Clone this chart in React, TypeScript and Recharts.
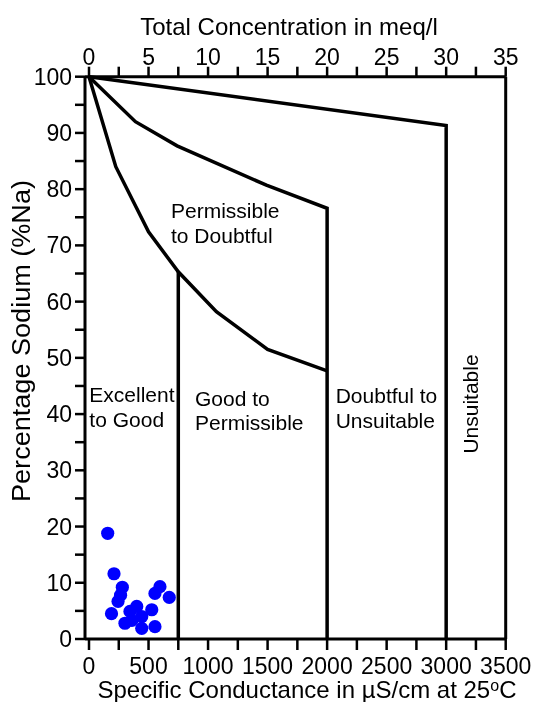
import React from 'react';
import { ComposedChart, XAxis, YAxis, Scatter, ReferenceLine } from 'recharts';

const FONT = '"Liberation Sans", Arial, Helvetica, sans-serif';

// Tick values
const conductanceTicks = [0, 250, 500, 750, 1000, 1250, 1500, 1750, 2000, 2250, 2500, 2750, 3000, 3250, 3500];
const concentrationTicks = [0, 2.5, 5, 7.5, 10, 12.5, 15, 17.5, 20, 22.5, 25, 27.5, 30, 32.5, 35];
const sodiumTicks = [0, 5, 10, 15, 20, 25, 30, 35, 40, 45, 50, 55, 60, 65, 70, 75, 80, 85, 90, 95, 100];

// Class boundaries (x: specific conductance µS/cm, y: %Na)
const unsuitableBoundary = [
  { x: 0, y: 100 },
  { x: 3000, y: 91.3 },
  { x: 3000, y: 0 },
];
const doubtfulBoundary = [
  { x: 0, y: 100 },
  { x: 390, y: 92 },
  { x: 740, y: 87.7 },
  { x: 1490, y: 80.7 },
  { x: 2000, y: 76.6 },
  { x: 2000, y: 0 },
];
const permissibleBoundary = [
  { x: 0, y: 100 },
  { x: 225, y: 84 },
  { x: 500, y: 72.4 },
  { x: 750, y: 65.3 },
  { x: 1070, y: 58.2 },
  { x: 1500, y: 51.5 },
  { x: 2000, y: 47.7 },
];
const goodBoundary = [
  { x: 750, y: 65.3 },
  { x: 750, y: 0 },
];

// Total concentration axis anchor (meq/l)
const concentrationRange = [
  { x: 0, y: 100 },
  { x: 35, y: 100 },
];

// Samples
const sampleEC = [157, 210, 280, 244, 189, 302, 401, 344, 443, 443, 527, 554, 554, 596, 674, 265, 360];
const sampleNa = [18.8, 11.6, 9.2, 6.7, 4.5, 2.8, 5.8, 4.9, 4.0, 1.9, 5.2, 2.2, 8.1, 9.3, 7.4, 7.8, 3.3];
const samples = sampleEC.map((x, i) => ({ x, y: sampleNa[i] }));

// Zone labels
const zoneLabels = [
  { x: 689, y: 74.8, lines: ['Permissible', 'to Doubtful'], rotate: false },
  { x: 3, y: 42.1, lines: ['Excellent', 'to Good'], rotate: false },
  { x: 890, y: 41.5, lines: ['Good to', 'Permissible'], rotate: false },
  { x: 2072, y: 41.9, lines: ['Doubtful to', 'Unsuitable'], rotate: false },
  { x: 3267, y: 41.8, lines: ['Unsuitable'], rotate: true },
];

const BottomTick = (props: any) => {
  const { x, y, payload } = props;
  if (payload.value % 500 !== 0) return <g />;
  return (
    <text x={x} y={y + 22} textAnchor="middle" fontSize={23} fontFamily={FONT} fill="#000">
      {payload.value}
    </text>
  );
};

const TopTick = (props: any) => {
  const { x, y, payload } = props;
  if (payload.value % 5 !== 0) return <g />;
  return (
    <text x={x} y={y + 0.5} textAnchor="middle" fontSize={23} fontFamily={FONT} fill="#000">
      {payload.value}
    </text>
  );
};

const LeftTick = (props: any) => {
  const { x, y, payload } = props;
  if (payload.value % 10 !== 0) return <g />;
  return (
    <text x={x - 1} y={y + 8} textAnchor="end" fontSize={23} fontFamily={FONT} fill="#000">
      {payload.value}
    </text>
  );
};

const NoShape = () => <g />;

const SampleDot = (props: any) => {
  const { cx, cy } = props;
  return <circle cx={cx} cy={cy} r={6.6} fill="#0000ff" />;
};

const ZoneLabel = (props: any) => {
  const { cx, cy, payload } = props;
  if (payload.rotate) {
    return (
      <text
        x={cx}
        y={cy}
        transform={`rotate(-90 ${cx} ${cy})`}
        textAnchor="middle"
        fontSize={21}
        fontFamily={FONT}
        fill="#000"
      >
        {payload.lines[0]}
      </text>
    );
  }
  return (
    <text x={cx} y={cy} fontSize={21} fontFamily={FONT} fill="#000">
      {payload.lines.map((l: string, i: number) => (
        <tspan key={i} x={cx} dy={i === 0 ? 0 : 24.4}>
          {l}
        </tspan>
      ))}
    </text>
  );
};

const lineStyle = { stroke: '#000', strokeWidth: 3.5, fill: 'none' };

export default function App() {
  return (
    <div style={{ position: 'fixed', left: 0, top: 0, width: 540, height: 702 }}>
      <ComposedChart
        width={540}
        height={702}
        margin={{ top: 26.7, right: 34.3, bottom: 0, left: 0 }}
      >
        <XAxis
          xAxisId="bottom"
          dataKey="x"
          type="number"
          orientation="bottom"
          domain={[0, 3500]}
          ticks={conductanceTicks}
          interval={0}
          height={63}
          padding={{ left: 4, right: 0 }}
          tickSize={11}
          axisLine={{ stroke: '#000', strokeWidth: 3 }}
          tickLine={{ stroke: '#000', strokeWidth: 2.5 }}
          tick={<BottomTick />}
        />
        <XAxis
          xAxisId="top"
          dataKey="x"
          type="number"
          orientation="top"
          domain={[0, 35]}
          ticks={concentrationTicks}
          interval={0}
          height={50}
          padding={{ left: 4, right: 0 }}
          tickSize={10}
          axisLine={{ stroke: '#000', strokeWidth: 3 }}
          tickLine={{ stroke: '#000', strokeWidth: 2.5 }}
          tick={<TopTick />}
        />
        <YAxis
          yAxisId="left"
          dataKey="y"
          type="number"
          domain={[0, 100]}
          ticks={sodiumTicks}
          interval={0}
          width={85}
          tickSize={10}
          axisLine={{ stroke: '#000', strokeWidth: 3 }}
          tickLine={{ stroke: '#000', strokeWidth: 2.5 }}
          tick={<LeftTick />}
        />
        <ReferenceLine xAxisId="bottom" yAxisId="left" x={3500} stroke="#000" strokeWidth={3} />
        <Scatter xAxisId="top" yAxisId="left" data={concentrationRange} shape={<NoShape />} isAnimationActive={false} />
        <Scatter xAxisId="bottom" yAxisId="left" data={unsuitableBoundary} line={lineStyle} stroke="#000" strokeWidth={3.5} shape={<NoShape />} isAnimationActive={false} />
        <Scatter xAxisId="bottom" yAxisId="left" data={doubtfulBoundary} line={lineStyle} stroke="#000" strokeWidth={3.5} shape={<NoShape />} isAnimationActive={false} />
        <Scatter xAxisId="bottom" yAxisId="left" data={permissibleBoundary} line={lineStyle} stroke="#000" strokeWidth={3.5} shape={<NoShape />} isAnimationActive={false} />
        <Scatter xAxisId="bottom" yAxisId="left" data={goodBoundary} line={lineStyle} stroke="#000" strokeWidth={3.5} shape={<NoShape />} isAnimationActive={false} />
        <Scatter xAxisId="bottom" yAxisId="left" data={samples} shape={<SampleDot />} isAnimationActive={false} />
        <Scatter xAxisId="bottom" yAxisId="left" data={zoneLabels} shape={<ZoneLabel />} isAnimationActive={false} />
      </ComposedChart>
      <svg
        width={540}
        height={702}
        style={{ position: 'absolute', left: 0, top: 0, pointerEvents: 'none' }}
      >
        <text x={289} y={35} textAnchor="middle" fontSize={24} fontFamily={FONT} fill="#000">
          Total Concentration in meq/l
        </text>
        <text x={307} y={698} textAnchor="middle" fontSize={24} fontFamily={FONT} fill="#000">
          Specific Conductance in µS/cm at 25
          <tspan fontSize={16} dy={-7}>o</tspan>
          <tspan dy={7}>C</tspan>
        </text>
        <text
          x={30}
          y={341}
          transform="rotate(-90 30 341)"
          textAnchor="middle"
          fontSize={25}
          fontFamily={FONT}
          fill="#000"
          textLength={322}
          lengthAdjust="spacingAndGlyphs"
        >
          Percentage Sodium (%Na)
        </text>
      </svg>
    </div>
  );
}
